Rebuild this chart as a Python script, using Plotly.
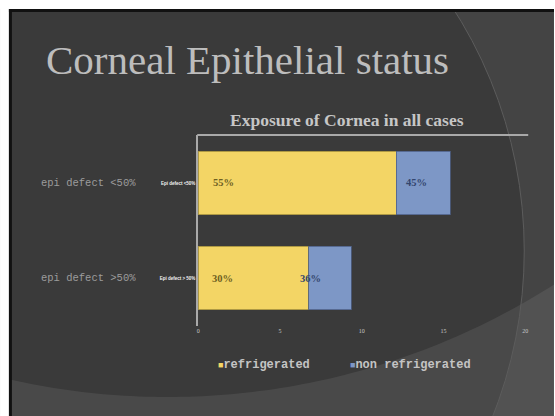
import numpy as np
import plotly.graph_objects as go

# ---- data ----
categories = ["epi defect <50%", "epi defect >50%"]
small_labels = ["Epi defect <50%", "Epi defect > 50%"]
refrigerated = [12.1, 6.75]
non_refrigerated = [3.3, 2.6]
refrigerated_labels = ["55%", "30%"]
non_refrigerated_labels = ["45%", "36%"]
x_ticks = [0, 5, 10, 15, 20]

W, H = 555, 416
YELLOW = "#f3d565"
BLUE = "#7d97c6"


def px(x):
    return x / W


def py(y):
    return 1 - y / H


fig = go.Figure()

fig.add_trace(go.Bar(
    y=categories, x=refrigerated, orientation="h", name="refrigerated",
    marker=dict(color=YELLOW, line=dict(color="#9c8a3c", width=0.8)),
    hoverinfo="x+name",
))
fig.add_trace(go.Bar(
    y=categories, x=non_refrigerated, orientation="h", name="non refrigerated",
    marker=dict(color=BLUE, line=dict(color="#4e5f85", width=0.8)),
    hoverinfo="x+name",
))

# ---- slide background ----
shapes = []
# slide body
shapes.append(dict(type="rect", xref="paper", yref="paper", layer="below",
                   x0=px(7), x1=px(W + 2), y0=py(9), y1=py(H + 2),
                   fillcolor="#444444", line=dict(width=0)))
# large dark disc
cx, cy, r = 81, 251, 446
shapes.append(dict(type="circle", xref="paper", yref="paper", layer="below",
                   x0=px(cx - r), x1=px(cx + r), y0=py(cy + r), y1=py(cy - r),
                   fillcolor="#3a3a3a", line=dict(width=0)))
# lighter band under the big sweeping arc
bx, by, br = 167, -336, 733
xs = np.linspace(-5, W + 5, 80)
ys = by + np.sqrt(br ** 2 - (xs - bx) ** 2)
path = "M " + " L ".join(f"{px(a):.5f},{py(b):.5f}" for a, b in zip(xs, ys))
path += f" L {px(W + 5):.5f},{py(H + 5):.5f} L {px(-5):.5f},{py(H + 5):.5f} Z"
shapes.append(dict(type="path", xref="paper", yref="paper", layer="below",
                   path=path, fillcolor="rgba(255,255,255,0.08)", line=dict(width=0)))
# thin outline of the dark disc
shapes.append(dict(type="circle", xref="paper", yref="paper", layer="below",
                   x0=px(cx - r), x1=px(cx + r), y0=py(cy + r), y1=py(cy - r),
                   line=dict(color="#5c5c5c", width=1)))
# white page margins and black slide frame
shapes.append(dict(type="rect", xref="paper", yref="paper", layer="below",
                   x0=px(-2), x1=px(W + 2), y0=py(9), y1=py(-2),
                   fillcolor="white", line=dict(width=0)))
shapes.append(dict(type="rect", xref="paper", yref="paper", layer="below",
                   x0=px(-2), x1=px(7), y0=py(H + 2), y1=py(-2),
                   fillcolor="white", line=dict(width=0)))
shapes.append(dict(type="rect", xref="paper", yref="paper", layer="below",
                   x0=px(7), x1=px(W + 2), y0=py(12), y1=py(9),
                   fillcolor="#111111", line=dict(width=0)))
shapes.append(dict(type="rect", xref="paper", yref="paper", layer="below",
                   x0=px(7), x1=px(10), y0=py(H + 2), y1=py(9),
                   fillcolor="#111111", line=dict(width=0)))
# top border of the plot area
shapes.append(dict(type="line", xref="paper", yref="paper", layer="above",
                   x0=px(197), x1=px(531), y0=py(135), y1=py(135),
                   line=dict(color="#a9a9a9", width=2)))

annotations = []
# slide heading
annotations.append(dict(
    text="Corneal Epithelial status", xref="paper", yref="paper",
    x=px(42), y=py(60), xanchor="left", yanchor="middle", showarrow=False,
    font=dict(family="Liberation Serif", size=41, color="#bdbdbd"),
))
# chart title
annotations.append(dict(
    text="<b>Exposure of Cornea in all cases</b>", xref="paper", yref="paper",
    x=px(348), y=py(120), xanchor="center", yanchor="middle", showarrow=False,
    font=dict(family="Liberation Serif", size=17.5, color="#c6c6c6"),
))
# category labels
for cat in categories:
    annotations.append(dict(
        text=cat.replace("<", "&lt;").replace(">", "&gt;"), xref="paper", yref="y",
        x=px(137), y=cat, xanchor="right", yanchor="middle", showarrow=False,
        font=dict(family="Liberation Mono", size=10.5, color="#9c9c9c"),
    ))
# bar value labels
ref_shift = [13, 12]
non_shift = [8, -11]
for i, cat in enumerate(categories):
    annotations.append(dict(
        text=f"<b>{refrigerated_labels[i]}</b>", xref="x", yref="y",
        x=0, y=cat, xanchor="left", yanchor="middle", xshift=ref_shift[i],
        showarrow=False,
        font=dict(family="Liberation Serif", size=10.5, color="#6e5f22"),
    ))
    annotations.append(dict(
        text=f"<b>{non_refrigerated_labels[i]}</b>", xref="x", yref="y",
        x=refrigerated[i], y=cat, xanchor="left", yanchor="middle",
        xshift=non_shift[i], showarrow=False,
        font=dict(family="Liberation Serif", size=10.5, color="#34466e"),
    ))
# legend
legend_items = [("refrigerated", YELLOW, 216), ("non refrigerated", BLUE, 349)]
for name, color, x0 in legend_items:
    annotations.append(dict(
        text=f"<span style='color:{color};font-size:9px'>■</span><b>{name}</b>",
        xref="paper", yref="paper", x=px(x0), y=py(365),
        xanchor="left", yanchor="middle", showarrow=False,
        font=dict(family="Liberation Mono", size=12, color="#c4c4c4"),
    ))

fig.update_layout(
    width=W, height=H,
    margin=dict(l=0, r=0, t=0, b=0),
    paper_bgcolor="white",
    plot_bgcolor="rgba(0,0,0,0)",
    barmode="stack",
    bargap=0.33,
    showlegend=False,
    shapes=shapes,
    annotations=annotations,
    xaxis=dict(
        domain=[px(198), px(528)], range=[0, 20],
        tickvals=x_ticks, ticktext=[str(t) for t in x_ticks],
        tickfont=dict(family="Liberation Serif", size=6, color="#c8c8c8"),
        showgrid=False, zeroline=False, showline=False, ticks="",
    ),
    yaxis=dict(
        domain=[py(326), py(135)], type="category",
        categoryorder="array", categoryarray=categories,
        range=[1.505, -0.505],
        tickvals=categories, ticktext=small_labels,
        tickfont=dict(family="Liberation Sans", size=4.5, color="#f2f2f2", weight="bold"),
        showgrid=False, zeroline=False, showline=True,
        linecolor="#a9a9a9", linewidth=2, ticks="",
    ),
)

fig.write_html("out.html")
